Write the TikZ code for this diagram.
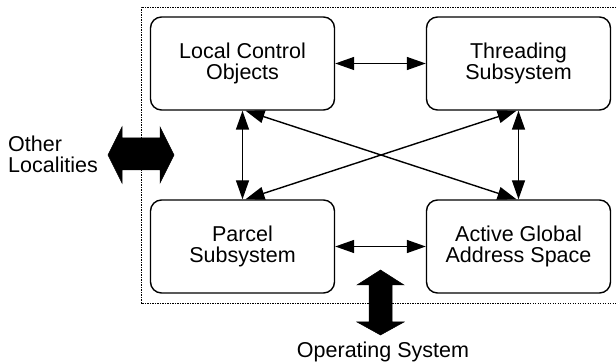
\documentclass[tikz,border=0pt]{standalone}
\usepackage{fontspec}
\setmainfont{Liberation Sans}
\usetikzlibrary{arrows.meta}
\begin{document}
\begin{tikzpicture}[x=1pt,y=-1pt,
  unit/.style={draw, line width=1.4pt, rounded corners=11pt, minimum width=184pt,
    minimum height=93pt, align=center, inner sep=0pt,
    font=\fontsize{21.5pt}{21pt}\selectfont},
  link/.style={line width=1.4pt, {Triangle[length=19pt,width=13pt]}-{Triangle[length=19pt,width=13pt]}},
  blockarrow/.style={fill=black, draw=black, line width=0.5pt, line join=miter},
  label/.style={font=\fontsize{21.5pt}{21pt}\selectfont, inner sep=0pt}
]
\useasboundingbox (0,0) rectangle (616,363);

% locality boundary
\draw[line width=0.7pt, dash pattern=on 1.2pt off 1.3pt]
  (616,7) -- (141,7) -- (141,303) -- (616,303);

% subsystems
\node[unit] (lco)  at (242.5,63.5)  {Local Control\\Objects};
\node[unit] (thr)  at (518.5,63.5)  {Threading\\Subsystem};
\node[unit] (par)  at (242.5,246.5) {Parcel\\Subsystem};
\node[unit] (agas) at (518.5,246.5) {Active Global\\Address Space};

% interactions
\draw[link] (lco.east) -- (thr.west);
\draw[link] (par.east) -- (agas.west);
\draw[link] (lco.south) -- (par.north);
\draw[link] (thr.south) -- (agas.north);
\draw[link] ([xshift=3pt]lco.south) -- ([xshift=-2pt]agas.north);
\draw[link] ([xshift=3pt]par.north) -- ([xshift=-2pt]thr.south);

% connection to other localities
\draw[blockarrow] (108,155) -- (122,127) -- (122,138) -- (160,138) -- (160,127)
  -- (174,155) -- (160,183) -- (160,170) -- (122,170) -- (122,183) -- cycle;
\node[label, align=left, anchor=west] (other) at (8,154) {Other\\Localities};

% connection to the operating system
\draw[blockarrow] (380.5,270) -- (404,285) -- (392,285) -- (392,322) -- (404,322)
  -- (380.5,335) -- (357,322) -- (369,322) -- (369,285) -- (357,285) -- cycle;
\node[label] (os) at (383,352) {Operating System};
\end{tikzpicture}
\end{document}
